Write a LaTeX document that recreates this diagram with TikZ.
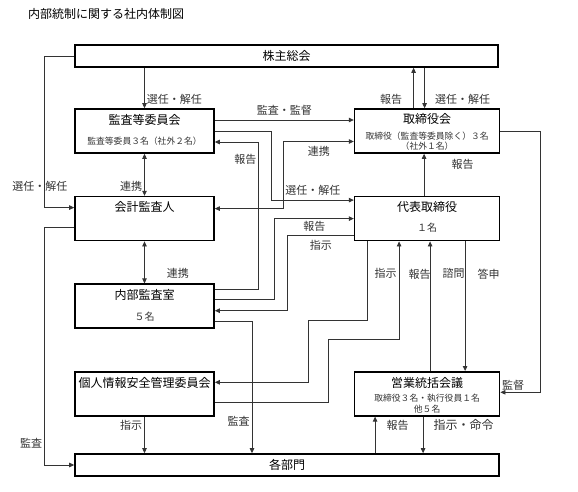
\documentclass[tikz,border=0pt]{standalone}
\usepackage{fontspec}
\setmainfont{Noto Sans CJK JP}
\usetikzlibrary{arrows.meta,positioning}
\tikzstyle{box} = [draw, rectangle, line width=1.6pt, inner sep=0pt]
\tikzstyle{wide} = [box, minimum width=423pt, minimum height=22pt]
\tikzstyle{unit} = [box, minimum width=139pt, minimum height=44pt]
\tikzstyle{exec} = [box, minimum width=145pt, minimum height=44pt]
\tikzstyle{ttl} = [font=\fontsize{12}{14}\selectfont, inner sep=0pt]
\tikzstyle{sub} = [font=\fontsize{8.8}{9.5}\selectfont, inner sep=0pt, text=black!80, align=center]
\tikzstyle{lbl} = [font=\fontsize{11}{13}\selectfont, text=black!80, inner sep=2pt]
\tikzstyle{connector} = [-{Triangle[length=5pt,width=4.5pt]}, line width=0.8pt, draw=black!80]
\tikzstyle{both} = [{Triangle[length=5pt,width=4.5pt]}-{Triangle[length=5pt,width=4.5pt]}, line width=0.8pt, draw=black!80]

\begin{document}
\begin{tikzpicture}[x=1pt, y=-1pt]
    \useasboundingbox (0,0) rectangle (578,492);
    \node (title) [ttl, anchor=west] at (28,14) {内部統制に関する社内体制図};

    % boxes
    \node (soukai) [wide] at (286.5,56) {};
    \node (kansa) [unit] at (144.5,131) {};
    \node (kaikei) [unit, below=42pt of kansa] {};
    \node (naibu) [unit, below=42pt of kaikei] {};
    \node (kojin) [unit, below=42pt of naibu] {};
    \node (torishimari) [exec, right=139pt of kansa] {};
    \node (daihyo) [exec, right=139pt of kaikei] {};
    \node (eigyo) [exec, right=139pt of kojin] {};
    \node (kakubu) [wide, minimum width=424pt] at (287,465) {};

    % texts in boxes
    \node (soukaiT) [ttl] at (soukai) {株主総会};
    \node (kansaT) [ttl] at ([yshift=-11.5pt]kansa.north) {監査等委員会};
    \node (kansaS) [sub] at ([yshift=-33pt]kansa.north) {監査等委員３名（社外２名）};
    \node (torishimariT) [ttl] at ([yshift=-11pt]torishimari.north) {取締役会};
    \node (torishimariS) [sub] at ([yshift=-33pt]torishimari.north) {取締役（監査等委員除く）３名\\（社外１名）};
    \node (kaikeiT) [ttl] at ([yshift=-11.5pt]kaikei.north) {会計監査人};
    \node (daihyoT) [ttl] at ([yshift=-11.5pt]daihyo.north) {代表取締役};
    \node (daihyoS) [sub, font=\fontsize{10}{12}\selectfont] at ([yshift=-32pt]daihyo.north) {１名};
    \node (naibuT) [ttl] at ([yshift=-11.5pt]naibu.north) {内部監査室};
    \node (naibuS) [sub, font=\fontsize{10}{12}\selectfont] at ([yshift=-33pt]naibu.north) {５名};
    \node (kojinT) [ttl] at ([yshift=-12pt]kojin.north) {個人情報安全管理委員会};
    \node (eigyoT) [ttl] at ([yshift=-12pt]eigyo.north) {営業統括会議};
    \node (eigyoS) [sub, font=\fontsize{8.8}{11}\selectfont] at ([yshift=-32.5pt]eigyo.north) {取締役３名・執行役員１名\\他５名};
    \node (kakubuT) [ttl] at (kakubu) {各部門};

    % points for vertical connectors
    \coordinate (tHou) at ([xshift=-13.5pt]torishimari.north);
    \coordinate (tSen) at ([xshift=-2.5pt]torishimari.north);
    \coordinate (dHou) at ([xshift=-3pt]daihyo.north);
    \coordinate (eTou) at ([xshift=3pt]eigyo.north);
    \coordinate (dShi) at ([xshift=38pt]daihyo.south);
    \coordinate (eHou) at ([xshift=-52pt]eigyo.south);
    \coordinate (eShi) at ([xshift=-4pt]eigyo.south);

    % left column
    \draw [connector] (soukai.south -| kansa.north) -- node [lbl, right, pos=.78] (lSenA) {選任・解任} (kansa.north);
    \draw [connector] (soukai.west) -- ++(-30,0) |- ([yshift=11pt]kaikei.west);
    \node (lSenB) [lbl] at (40,186) {選任・解任};
    \draw [connector] ([yshift=-9pt]kaikei.west) -- ++(-30,0) |- (kakubu.west);
    \node (lKanA) [lbl] at (31,443) {監査};
    \draw [both] (kansa.south) -- node [lbl, left, pos=.77] (lRenA) {連携} (kaikei.north);
    \draw [both] (kaikei.south) -- node [lbl, right, pos=.76, xshift=20pt] (lRenB) {連携} (naibu.north);
    \draw [connector] (kojin.south) -- node [lbl, left, pos=.24] (lShiA) {指示} (kojin.south |- kakubu.north);

    % middle
    \draw [connector] ([yshift=11pt]kansa.east) -- node [lbl, above, yshift=2pt] (lKansa) {監査・監督} ([yshift=11pt]kansa.east -| torishimari.west);
    \draw [connector] (kansa.east) -- ++(57,0) |- node [lbl, above, pos=.75, yshift=2pt] (lSenC) {選任・解任} ([yshift=18.5pt]daihyo.west);
    \draw [both] ([yshift=10pt]kaikei.east) -- ++(69,0) |- node [lbl, below, pos=.75, yshift=-2pt] (lRenC) {連携} ([yshift=-10.5pt]torishimari.west);
    \draw [connector] ([yshift=16.5pt]naibu.east) -- ++(44,0) |- node [lbl, left, pos=.44] (lHouA) {報告} ([yshift=-11pt]kansa.east);
    \draw [connector] ([yshift=6.5pt]naibu.east) -- ++(60,0) |- node [lbl, below, pos=.75] (lHouB) {報告} (daihyo.west);
    \draw [connector] ([yshift=-16.5pt]daihyo.west) -- node [lbl, below, midway, yshift=-3pt] (lShiB) {指示} ++(-66,0) |- ([yshift=-4.5pt]naibu.east);
    \draw [connector] ([yshift=-15.5pt]naibu.east) -| node [lbl, left, pos=.88] (lKanB) {監査} ([xshift=-35pt]kakubu.north);

    % right column
    \draw [connector] (tHou) -- node [lbl, left, pos=.23, xshift=-9pt] (lHouC) {報告} (tHou |- soukai.south);
    \draw [connector] (tSen |- soukai.south) -- node [lbl, right, pos=.77, xshift=8pt] (lSenD) {選任・解任} (tSen);
    \draw [connector] (dHou) -- node [lbl, right, pos=.74, xshift=25pt] (lHouD) {報告} (dHou |- torishimari.south);
    \draw [connector] ([xshift=-60pt]daihyo.south) -- node [lbl, right, pos=.4, xshift=5pt] (lShiC) {指示} ++(0,79) -- ++(-59,0) |- ([yshift=11.5pt]kojin.east);
    \draw [connector] ([yshift=-8.5pt]kojin.east) -- ++(114,0) -- ++(0,-63) -| node [lbl, right, pos=.83, xshift=7pt] (lHouE) {報告} ([xshift=-28pt]daihyo.south);
    \draw [connector] (eTou) -- node [lbl, right, pos=.75, xshift=10pt] (lShimon) {諮問} (eTou |- daihyo.south);
    \draw [connector] (dShi) -- node [lbl, right, pos=.25, xshift=10pt] (lTou) {答申} (dShi |- eigyo.north);
    \draw [connector] (torishimari.east) -- ++(40,0) |- node [lbl, above, pos=.84] (lKantoku) {監督} ([yshift=1.5pt]eigyo.east);
    \draw [connector] (eHou |- kakubu.north) -- node [lbl, right, pos=.76, xshift=9pt] (lHouF) {報告} (eHou);
    \draw [connector] (eShi) -- node [lbl, right, pos=.24, xshift=8pt, font=\fontsize{12}{14}\selectfont] (lShimei) {指示・命令} (eShi |- kakubu.north);
\end{tikzpicture}
\end{document}
